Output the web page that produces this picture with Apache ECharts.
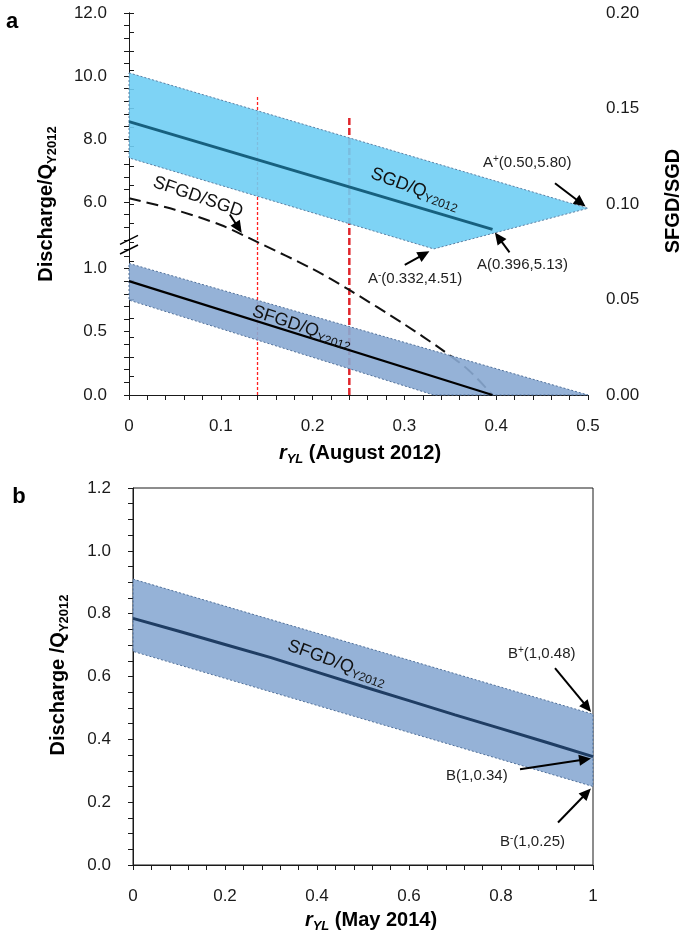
<!DOCTYPE html>
<html><head><meta charset="utf-8">
<script src="https://cdn.jsdelivr.net/npm/echarts@6/dist/echarts.min.js"></script>
<style>html,body{margin:0;padding:0;background:#fff}#c{width:685px;height:938px}</style>
</head><body><div id="c"></div>
<script>
// ================= DATA =================
// Panel a — SGD/QY2012 uncertainty band (upper left axis), polygon vertices
const sgdBandX = [0, 0.5, 0.332, 0];
const sgdBandY = [10.1, 5.80, 4.51, 7.40];
// Panel a — SGD/QY2012 central line
const sgdLineX = [0, 0.396];
const sgdLineY = [8.55, 5.13];
// Panel a — SFGD/QY2012 band (lower left axis)
const sfgdBandX = [0, 0.5, 0.332, 0];
const sfgdBandY = [1.04, 0, 0, 0.75];
// Panel a — SFGD/QY2012 central line
const sfgdLineX = [0, 0.396];
const sfgdLineY = [0.90, 0];
// Panel a — SFGD/SGD ratio (right axis)
const ratioX = [0, 0.05, 0.10, 0.14, 0.20, 0.24, 0.30, 0.34, 0.37, 0.396];
const ratioY = [0.103, 0.097, 0.089, 0.080, 0.066, 0.055, 0.037, 0.024, 0.013, 0.0];
// Panel a — red reference lines (x position, top in right-axis units)
const refThinX = [0.14, 0.14];
const refThinY = [0, 0.156];
const refThickX = [0.24, 0.24];
const refThickY = [0, 0.145];
// Panel b — SFGD/QY2012 band
const bBandX = [0, 1, 1, 0];
const bBandY = [0.91, 0.48, 0.25, 0.68];
// Panel b — central line
const bLineX = [0, 0.1, 0.2, 0.3, 0.4, 0.5, 0.6, 0.7, 0.8, 0.9, 1.0];
const bLineY = [0.785, 0.744, 0.702, 0.66, 0.614, 0.568, 0.523, 0.478, 0.434, 0.39, 0.345];
// Tick labels
const aXLabels = ['0', '0.1', '0.2', '0.3', '0.4', '0.5'];
const aUpperLabels = ['6.0', '8.0', '10.0', '12.0'];
const aLowerLabels = ['0.0', '0.5', '1.0'];
const aRightLabels = ['0.00', '0.05', '0.10', '0.15', '0.20'];
const bXLabels = ['0', '0.2', '0.4', '0.6', '0.8', '1'];
const bYLabels = ['0.0', '0.2', '0.4', '0.6', '0.8', '1.0', '1.2'];
// Annotation points
const ptAplus = [0.5, 5.80], ptA = [0.396, 5.13], ptAminus = [0.332, 4.51];
const ptRatio = [0.124, 0.084];
const ptBplus = [1, 0.48], ptB = [1, 0.34], ptBminus = [1, 0.25];

// ================= CHART =================
const FONT = 'Liberation Sans';
const AX = '#1a1a1a';
const zip = (xs, ys) => xs.map((x, i) => [x, ys[i]]);
function pickLabel(list) {
  return function (v) {
    for (const s of list) { if (Math.abs(parseFloat(s) - v) < 1e-6) return s; }
    return '';
  };
}
function bandSeries(xs, ys, xi, yi, fill, stroke) {
  return {
    type: 'custom', xAxisIndex: xi, yAxisIndex: yi, z: 2, clip: false, silent: true,
    data: zip(xs, ys), encode: { x: 0, y: 1 },
    renderItem: function (params, api) {
      if (params.dataIndex !== 0) return null;
      const pts = xs.map((x, i) => api.coord([x, ys[i]]));
      return { type: 'polygon', shape: { points: pts },
        style: { fill: fill, stroke: stroke, lineWidth: 1, lineDash: [2, 2] } };
    }
  };
}
function lineSeries(xs, ys, xi, yi, color, width, type, z, smooth) {
  return { type: 'line', xAxisIndex: xi, yAxisIndex: yi, data: zip(xs, ys), symbol: 'none',
    smooth: smooth || false, clip: false, silent: true, z: z,
    lineStyle: { color: color, width: width, type: type || 'solid', opacity: 1 } };
}
const yBase = (min, max, interval, labels, margin) => ({
  type: 'value', min: min, max: max, interval: interval,
  axisLine: { show: true, lineStyle: { color: AX, width: 1 } },
  axisTick: { show: true, inside: false, length: 5, lineStyle: { color: AX } },
  axisLabel: { formatter: pickLabel(labels), fontSize: 17, color: AX, margin: margin, fontFamily: FONT },
  splitLine: { show: false }
});

const chart = echarts.init(document.getElementById('c'), null, { renderer: 'canvas' });
const option = {
  animation: false,
  backgroundColor: '#fff',
  textStyle: { fontFamily: FONT },
  grid: [
    { left: 129, width: 459, top: 13, height: 226.8 },            // a upper
    { left: 129, width: 459, top: 249.5, height: 145.5 },         // a lower
    { left: 129, width: 459, top: 13, height: 382 },              // a overlay (right axis)
    { left: 133, width: 460, top: 488, height: 377, show: true, borderColor: AX, borderWidth: 1 } // b
  ],
  xAxis: [
    { gridIndex: 0, type: 'value', min: 0, max: 0.5, show: false },
    { gridIndex: 1, type: 'value', min: 0, max: 0.5, interval: 0.1,
      axisLine: { show: true, lineStyle: { color: AX } },
      axisTick: { show: true, length: 5, lineStyle: { color: AX } },
      minorTick: { show: true, splitNumber: 5, length: 5, lineStyle: { color: AX } },
      axisLabel: { formatter: pickLabel(aXLabels), fontSize: 17, color: AX, margin: 23 },
      splitLine: { show: false } },
    { gridIndex: 2, type: 'value', min: 0, max: 0.5, position: 'top',
      axisLine: { show: true, lineStyle: { color: AX } }, axisTick: { show: false },
      axisLabel: { show: false }, splitLine: { show: false } },
    { gridIndex: 3, type: 'value', min: 0, max: 1, interval: 0.2,
      axisLine: { show: true, lineStyle: { color: AX } },
      axisTick: { show: true, length: 5, lineStyle: { color: AX } },
      minorTick: { show: true, splitNumber: 5, length: 5, lineStyle: { color: AX } },
      axisLabel: { formatter: pickLabel(bXLabels), fontSize: 17, color: AX, margin: 23 },
      splitLine: { show: false } }
  ],
  yAxis: [
    Object.assign({ gridIndex: 0 }, yBase(4.8, 12, 0.4, aUpperLabels, 22)),
    Object.assign({ gridIndex: 1 }, yBase(0, 1.15, 0.1, aLowerLabels, 22)),
    Object.assign({ gridIndex: 2, position: 'right' }, yBase(0, 0.2, 0.05, aRightLabels, 18),
      { minorTick: { show: true, splitNumber: 5, length: 5, lineStyle: { color: AX } } }),
    Object.assign({ gridIndex: 3 }, yBase(0, 1.2, 0.2, bYLabels, 22),
      { minorTick: { show: true, splitNumber: 4, length: 5, lineStyle: { color: AX } } })
  ],
  series: [
    lineSeries(refThinX, refThinY, 2, 2, '#ff1f1f', 1.3, [3, 2], 1),
    lineSeries(refThickX, refThickY, 2, 2, '#e0252b', 2.5, [7, 3], 1),
    lineSeries(ratioX, ratioY, 2, 2, '#111', 2, [12, 6], 1, 0.3),
    bandSeries(sgdBandX, sgdBandY, 0, 0, 'rgba(112,206,244,0.9)', '#5d7fa3'),
    bandSeries(sfgdBandX, sfgdBandY, 1, 1, 'rgba(137,170,211,0.9)', '#4f6f99'),
    lineSeries(sgdLineX, sgdLineY, 0, 0, '#17607e', 3, 'solid', 3),
    lineSeries(sfgdLineX, sfgdLineY, 1, 1, '#000', 2.2, 'solid', 3),
    bandSeries(bBandX, bBandY, 3, 3, 'rgba(137,170,211,0.9)', '#4f6f99'),
    lineSeries(bLineX, bLineY, 3, 3, '#1f3d63', 3, 'solid', 3)
  ]
};
chart.setOption(option);

// ================= ANNOTATIONS =================
const px = (xi, yi, p) => chart.convertToPixel({ xAxisIndex: xi, yAxisIndex: yi }, p);
function arrow(tail, head) {
  const dx = head[0] - tail[0], dy = head[1] - tail[1], L = Math.hypot(dx, dy);
  const ux = dx / L, uy = dy / L, hl = 12, hw = 5.5;
  const bx = head[0] - ux * hl, by = head[1] - uy * hl;
  return [
    { type: 'line', z: 50, shape: { x1: tail[0], y1: tail[1], x2: bx + ux * 2, y2: by + uy * 2 },
      style: { stroke: '#000', lineWidth: 2 } },
    { type: 'polygon', z: 50, shape: { points: [head, [bx - uy * hw, by + ux * hw], [bx + uy * hw, by - ux * hw]] },
      style: { fill: '#000' } }
  ];
}
function arrowTo(p, tailOff, gap) {
  const tail = [p[0] + tailOff[0], p[1] + tailOff[1]];
  const dx = p[0] - tail[0], dy = p[1] - tail[1], L = Math.hypot(dx, dy);
  const head = [p[0] - dx / L * gap, p[1] - dy / L * gap];
  return arrow(tail, head);
}
const annRich = {
  m: { fontSize: 15, fontFamily: FONT, fill: '#222', lineHeight: 18 },
  p: { fontSize: 10, fontFamily: FONT, fill: '#222', lineHeight: 10, verticalAlign: 'top' }
};
const serRich = {
  m: { fontSize: 18, fontFamily: FONT, fill: '#111', lineHeight: 22 },
  s: { fontSize: 12, fontFamily: FONT, fill: '#111', lineHeight: 12, verticalAlign: 'bottom' }
};
const titleRich = {
  b: { fontSize: 20, fontWeight: 'bold', fontFamily: FONT, fill: '#000', lineHeight: 26 },
  s: { fontSize: 13, fontWeight: 'bold', fontFamily: FONT, fill: '#000', lineHeight: 13, verticalAlign: 'bottom' },
  i: { fontSize: 20, fontWeight: 'bold', fontStyle: 'italic', fontFamily: FONT, fill: '#000', lineHeight: 26 },
  si: { fontSize: 13, fontWeight: 'bold', fontStyle: 'italic', fontFamily: FONT, fill: '#000', lineHeight: 13, verticalAlign: 'bottom' }
};
function txt(x, y, text, rich, rot, align) {
  return { type: 'text', x: x, y: y, rotation: (rot || 0) * Math.PI / 180, z: 60,
    style: { text: text, rich: rich, align: align || 'center', verticalAlign: 'middle', fill: '#000' } };
}
const g = [];
// panel letters
g.push({ type: 'text', x: 12, y: 22, z: 60, style: { text: 'a', fontSize: 22, fontWeight: 'bold', fontFamily: FONT, fill: '#000', align: 'center', verticalAlign: 'middle' } });
g.push({ type: 'text', x: 19, y: 497, z: 60, style: { text: 'b', fontSize: 22, fontWeight: 'bold', fontFamily: FONT, fill: '#000', align: 'center', verticalAlign: 'middle' } });
// axis titles
g.push(txt(46, 204, '{b|Discharge/Q}{s|Y2012}', titleRich, 90));
g.push(txt(673, 201, '{b|SFGD/SGD}', titleRich, 90));
g.push(txt(360, 453, '{i|r}{si|YL}{b| (August 2012)}', titleRich, 0));
g.push(txt(58, 675, '{b|Discharge /Q}{s|Y2012}', titleRich, 90));
g.push(txt(371, 920, '{i|r}{si|YL}{b| (May 2014)}', titleRich, 0));
// in-plot series labels
g.push(txt(198, 197, '{m|SFGD/SGD}', serRich, -19));
g.push(txt(415, 189, '{m|SGD/Q}{s|Y2012}', serRich, -20));
g.push(txt(302, 327, '{m|SFGD/Q}{s|Y2012}', serRich, -18));
g.push(txt(337, 663, '{m|SFGD/Q}{s|Y2012}', serRich, -20));
// point annotations
g.push(txt(483, 163, '{m|A}{p|+}{m|(0.50,5.80)}', annRich, 0, 'left'));
g.push(txt(477, 265, '{m|A(0.396,5.13)}', annRich, 0, 'left'));
g.push(txt(368, 279, '{m|A}{p|-}{m|(0.332,4.51)}', annRich, 0, 'left'));
g.push(txt(508, 654, '{m|B}{p|+}{m|(1,0.48)}', annRich, 0, 'left'));
g.push(txt(446, 776, '{m|B(1,0.34)}', annRich, 0, 'left'));
g.push(txt(500, 842, '{m|B}{p|-}{m|(1,0.25)}', annRich, 0, 'left'));
// arrows
g.push(...arrowTo(px(0, 0, ptAplus), [-33, -25], 3));
g.push(...arrowTo(px(0, 0, ptA), [17, 23], 4));
g.push(...arrowTo(px(0, 0, ptAminus), [-29, 16], 5));
g.push(...arrowTo(px(2, 2, ptRatio), [-13, -20], 2));
g.push(...arrowTo(px(3, 3, ptBplus), [-38, -46], 3));
g.push(...arrowTo(px(3, 3, ptB), [-73, 11], 2));
g.push(...arrowTo(px(3, 3, ptBminus), [-35, 36], 3));
// axis break marks on the left axis of panel a
const bu = px(0, 0, [0, 4.8]), bl = px(1, 1, [0, 1.15]);
[bu, bl].forEach(p => g.push({ type: 'line', z: 55,
  shape: { x1: p[0] - 9, y1: p[1] + 4.5, x2: p[0] + 9, y2: p[1] - 4.5 },
  style: { stroke: '#000', lineWidth: 1.5 } }));
chart.setOption({ graphic: g });
</script></body></html>
